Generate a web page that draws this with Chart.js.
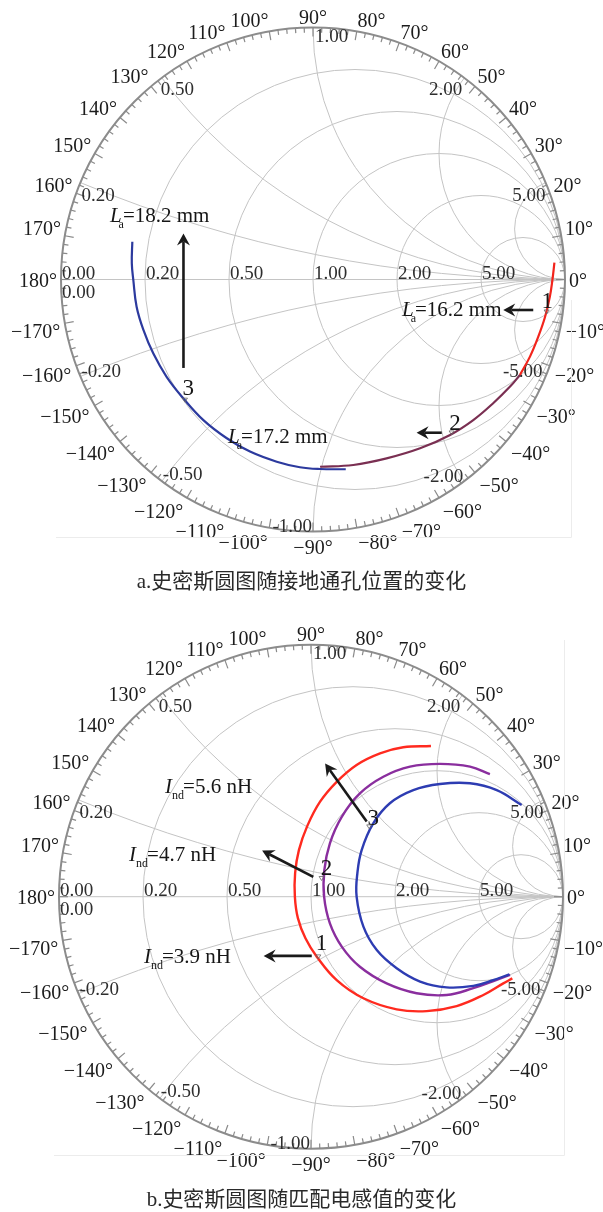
<!DOCTYPE html>
<html>
<head>
<meta charset="utf-8">
<title>史密斯圆图</title>
<script src="https://cdn.jsdelivr.net/npm/chart.js@4.4.1/dist/chart.umd.min.js"></script>
<style>
  html, body { margin: 0; padding: 0; background: #fff; }
  body { position: relative; width: 603px; height: 1212px; overflow: hidden; }
  .panel { position: absolute; left: 0; }
  .caption { position: absolute; left: 0; width: 603px; text-align: center;
    font-family: "Liberation Serif", "Noto Sans CJK SC", serif; font-size: 21px;
    color: #2a2a2a; line-height: 24px; }
</style>
</head>
<body>
<div class="panel" style="top:0"><canvas id="chartA" width="603" height="600"></canvas></div>
<div class="panel" style="top:600px"><canvas id="chartB" width="603" height="612"></canvas></div>
<div class="caption" style="top:569px">a.史密斯圆图随接地通孔位置的变化</div>
<div class="caption" style="top:1187px">b.史密斯圆图随匹配电感值的变化</div>
<script>
// ---------- Smith chart grid values ----------
const resistanceValues = [0.2, 0.5, 1, 2, 5];
const reactanceValues = [0.2, 0.5, 1, 2, 5];
const resistanceTickLabels = ['0.00', '0.20', '0.50', '1.00', '2.00', '5.00'];
const reactanceTickLabels = ['0.20', '0.50', '1.00', '2.00', '5.00'];
const negReactanceTickLabels = ['-0.20', '-0.50', '-1.00', '-2.00', '-5.00'];
const angleTickLabels = [0, 10, 20, 30, 40, 50, 60, 70, 80, 90, 100, 110, 120, 130, 140, 150, 160, 170, 180,
  -10, -20, -30, -40, -50, -60, -70, -80, -90, -100, -110, -120, -130, -140, -150, -160, -170];

// ---------- (a) S11 traces vs. grounding-via position, [Re Γ, Im Γ] ----------
const traceLa162 = [[0.958, 0.067], [0.950, -0.002], [0.940, -0.068], [0.921, -0.148], [0.894, -0.227],
  [0.861, -0.306], [0.821, -0.379]];
const traceLa172 = [[0.821, -0.379], [0.782, -0.425], [0.715, -0.491], [0.636, -0.558], [0.544, -0.617],
  [0.425, -0.670], [0.292, -0.710], [0.160, -0.736], [0.028, -0.743]];
const traceLa182 = [[0.130, -0.753], [0.028, -0.752], [-0.052, -0.745], [-0.144, -0.723], [-0.250, -0.683],
  [-0.342, -0.630], [-0.435, -0.558], [-0.515, -0.471], [-0.581, -0.386], [-0.634, -0.293],
  [-0.673, -0.200], [-0.700, -0.108], [-0.713, -0.002], [-0.719, 0.064], [-0.717, 0.150]];

// ---------- (b) S11 traces vs. matching inductance, [Re Γ, Im Γ] ----------
const traceInd39 = [[0.476, 0.598], [0.366, 0.593], [0.274, 0.569], [0.181, 0.523], [0.102, 0.456],
  [0.036, 0.377], [-0.015, 0.280], [-0.048, 0.185], [-0.063, 0.094], [-0.064, 0.000], [-0.052, -0.085],
  [-0.022, -0.165], [0.023, -0.238], [0.102, -0.331], [0.208, -0.403], [0.340, -0.447], [0.459, -0.454],
  [0.578, -0.434], [0.684, -0.390], [0.763, -0.344], [0.799, -0.324]];
const traceInd47 = [[0.710, 0.486], [0.631, 0.516], [0.512, 0.527], [0.393, 0.516], [0.287, 0.476],
  [0.194, 0.410], [0.122, 0.317], [0.075, 0.212], [0.053, 0.106], [0.052, 0.000], [0.075, -0.106],
  [0.122, -0.198], [0.194, -0.278], [0.300, -0.344], [0.419, -0.383], [0.538, -0.390], [0.644, -0.363],
  [0.737, -0.330], [0.790, -0.310]];
const traceInd56 = [[0.836, 0.364], [0.737, 0.423], [0.631, 0.450], [0.512, 0.447], [0.406, 0.423],
  [0.313, 0.371], [0.247, 0.291], [0.201, 0.185], [0.184, 0.093], [0.181, 0.000], [0.208, -0.119],
  [0.261, -0.212], [0.340, -0.284], [0.433, -0.337], [0.538, -0.360], [0.644, -0.354], [0.723, -0.331],
  [0.787, -0.308]];

// ---------- annotations (positions in Γ-plane units) ----------
const notesA = {
  labels: [
    { sym: 'L', sub: 'a', text: '=18.2 mm', at: [-0.806, 0.228] },
    { sym: 'L', sub: 'a', text: '=17.2 mm', at: [-0.337, -0.649] },
    { sym: 'L', sub: 'a', text: '=16.2 mm', at: [0.353, -0.145] }
  ],
  markers: [
    { text: '1', at: [0.930, -0.081], tri: [0.927, -0.128] },
    { text: '2', at: [0.563, -0.564], tri: [0.550, -0.608] },
    { text: '3', at: [-0.495, -0.425], tri: [-0.508, -0.478] }
  ],
  arrows: [
    { from: [-0.514, -0.351], to: [-0.514, 0.183] },
    { from: [0.874, -0.121], to: [0.755, -0.121] },
    { from: [0.511, -0.608], to: [0.411, -0.608] }
  ],
  frame: { left: 56, right: 571, top: 300, bottom: 537 }
};
const notesB = {
  labels: [
    { sym: 'I', sub: 'nd', text: '=5.6 nH', at: [-0.579, 0.412] },
    { sym: 'I', sub: 'nd', text: '=4.7 nH', at: [-0.722, 0.142] },
    { sym: 'I', sub: 'nd', text: '=3.9 nH', at: [-0.663, -0.263] }
  ],
  markers: [
    { text: '1', at: [0.042, -0.179], tri: [0.029, -0.238] },
    { text: '2', at: [0.062, 0.119], tri: [0.042, 0.073] },
    { text: '3', at: [0.247, 0.317], tri: [0.231, 0.278] }
  ],
  arrows: [
    { from: [0.221, 0.298], to: [0.056, 0.529] },
    { from: [0.009, 0.079], to: [-0.194, 0.183] },
    { from: [0.003, -0.235], to: [-0.188, -0.235] }
  ],
  frame: { left: 54, right: 564, top: 40, bottom: 555 }
};

const SERIF = '"Liberation Serif", "Times New Roman", serif';

function pix(chart) {
  const xs = chart.scales.x, ys = chart.scales.y;
  const X = v => xs.getPixelForValue(v), Y = v => ys.getPixelForValue(v);
  return { X, Y, cx: X(0), cy: Y(0), R: X(1) - X(0) };
}

// Smith chart background: resistance circles, reactance arcs, rim scale and labels
const smithGrid = {
  id: 'smithGrid',
  beforeDatasetsDraw(chart) {
    const { ctx } = chart;
    const { X, Y, cx, cy, R } = pix(chart);
    ctx.save();

    // grid clipped to the unit disc
    ctx.save();
    ctx.beginPath(); ctx.arc(cx, cy, R, 0, Math.PI * 2); ctx.clip();
    ctx.strokeStyle = '#c4c4c4'; ctx.lineWidth = 1;
    ctx.beginPath(); ctx.moveTo(cx - R, cy); ctx.lineTo(cx + R, cy); ctx.stroke();
    resistanceValues.forEach(r => {
      ctx.beginPath(); ctx.arc(X(r / (1 + r)), cy, R / (1 + r), 0, Math.PI * 2); ctx.stroke();
    });
    reactanceValues.forEach(x => {
      [x, -x].forEach(v => {
        ctx.beginPath(); ctx.arc(X(1), Y(1 / v), R / Math.abs(v), 0, Math.PI * 2); ctx.stroke();
      });
    });
    ctx.restore();

    // rim with degree ticks
    ctx.strokeStyle = '#8c8c8c'; ctx.lineWidth = 2;
    ctx.beginPath(); ctx.arc(cx, cy, R, 0, Math.PI * 2); ctx.stroke();
    ctx.lineWidth = 1.2; ctx.strokeStyle = '#8a8a8a';
    for (let d = -178; d <= 180; d += 2) {
      const a = d * Math.PI / 180, c = Math.cos(a), s = Math.sin(a);
      const len = d % 10 === 0 ? 9 : 5;
      ctx.beginPath();
      ctx.moveTo(cx + R * c, cy - R * s);
      ctx.lineTo(cx + (R - len) * c, cy - (R - len) * s);
      ctx.stroke();
    }

    // degree labels: the corner facing the centre sits on the radial line
    ctx.font = '20px ' + SERIF; ctx.fillStyle = '#1c1c1c';
    ctx.textAlign = 'center'; ctx.textBaseline = 'alphabetic';
    const side = t => Math.max(-1, Math.min(1, t / 0.17));
    angleTickLabels.forEach(d => {
      const t = (d < 0 ? '\u2212' + (-d) : String(d)) + '\u00b0';
      const a = d * Math.PI / 180, ux = Math.cos(a), uy = -Math.sin(a);
      const w = ctx.measureText(t).width, h = 14;
      const g = 4 + 4 * Math.max(0, uy);
      const px = cx + ux * (R + g), py = cy + uy * (R + g);
      const tx = px + side(ux) * w / 2, ty = py + side(uy) * h / 2;
      ctx.fillText(t, tx, ty + h / 2);
    });

    // resistance labels along the real axis
    ctx.font = '19px ' + SERIF; ctx.fillStyle = '#2e2e2e'; ctx.textAlign = 'left';
    ctx.fillText(resistanceTickLabels[0], X(-1) + 1, cy - 0.5);
    ctx.fillText(resistanceTickLabels[0], X(-1) + 1, cy + 18.5);
    resistanceValues.forEach((r, i) => {
      ctx.fillText(resistanceTickLabels[i + 1], X((r - 1) / (r + 1)) + 1, cy - 0.5);
    });

    // reactance labels just inside the rim
    const upper = [['left', 1, 5], ['left', -1, 4], ['left', 2, 1], ['right', -2, 4], ['right', 0, 5]];
    const lower = [['left', 1, 1], ['left', 1, -1], ['right', -1, 0], ['right', -1, 1], ['right', -3, 1]];
    reactanceValues.forEach((x, i) => {
      const re = (x * x - 1) / (x * x + 1), im = 2 * x / (x * x + 1);
      const [al, dx, dy] = upper[i];
      ctx.textAlign = al;
      ctx.fillText(reactanceTickLabels[i], X(re) + dx, Y(im) + dy + 13);
      const [al2, dx2, dy2] = lower[i];
      ctx.textAlign = al2;
      ctx.fillText(negReactanceTickLabels[i], X(re) + dx2, Y(-im) + dy2);
    });
    ctx.restore();
  }
};

function drawArrow(ctx, x1, y1, x2, y2) {
  const ang = Math.atan2(y2 - y1, x2 - x1);
  const L = 12, Wd = 6.5, notch = 4;
  const bx = x2 - Math.cos(ang) * (L - notch), by = y2 - Math.sin(ang) * (L - notch);
  ctx.beginPath(); ctx.moveTo(x1, y1); ctx.lineTo(bx, by); ctx.stroke();
  const px = -Math.sin(ang), py = Math.cos(ang);
  const hx = x2 - Math.cos(ang) * L, hy = y2 - Math.sin(ang) * L;
  ctx.beginPath();
  ctx.moveTo(x2, y2);
  ctx.lineTo(hx + px * Wd, hy + py * Wd);
  ctx.lineTo(bx, by);
  ctx.lineTo(hx - px * Wd, hy - py * Wd);
  ctx.closePath(); ctx.fill();
}

// text, arrows and point markers drawn over the traces
function notesPlugin(notes) {
  return {
    id: 'smithNotes',
    afterDatasetsDraw(chart) {
      const { ctx } = chart;
      const { X, Y } = pix(chart);
      ctx.save();
      // faint edge of the figure
      const f = notes.frame;
      ctx.strokeStyle = '#ececec'; ctx.lineWidth = 1;
      ctx.beginPath();
      ctx.moveTo(f.left, f.bottom + 0.5); ctx.lineTo(f.right + 0.5, f.bottom + 0.5);
      ctx.lineTo(f.right + 0.5, f.top);
      ctx.stroke();

      ctx.fillStyle = '#161616'; ctx.textBaseline = 'alphabetic'; ctx.textAlign = 'left';
      notes.labels.forEach(l => {
        const x = X(l.at[0]), y = Y(l.at[1]);
        ctx.font = 'italic 21px ' + SERIF;
        ctx.fillText(l.sym, x, y);
        const ws = ctx.measureText(l.sym).width;
        const subX = x + ws - (l.sym === 'L' ? 3 : 0);
        ctx.font = '12px ' + SERIF;
        ctx.fillText(l.sub, subX, y + 6);
        const subEnd = subX + ctx.measureText(l.sub).width;
        ctx.font = '21px ' + SERIF;
        ctx.fillText(l.text, Math.max(x + ws, subEnd) - 1, y);
      });

      ctx.textAlign = 'center';
      notes.markers.forEach(m => {
        ctx.font = '23px ' + SERIF; ctx.fillStyle = '#161616';
        ctx.fillText(m.text, X(m.at[0]), Y(m.at[1]) + 8);
        const tx = X(m.tri[0]), ty = Y(m.tri[1]);
        ctx.strokeStyle = '#666'; ctx.lineWidth = 0.8;
        ctx.beginPath();
        ctx.moveTo(tx - 2.5, ty - 1.8); ctx.lineTo(tx + 2.5, ty - 1.8); ctx.lineTo(tx, ty + 2.2);
        ctx.closePath(); ctx.stroke();
      });

      ctx.strokeStyle = '#1a1a1a'; ctx.fillStyle = '#1a1a1a'; ctx.lineWidth = 2.6;
      notes.arrows.forEach(a => drawArrow(ctx, X(a.from[0]), Y(a.from[1]), X(a.to[0]), Y(a.to[1])));
      ctx.restore();
    }
  };
}

const toXY = arr => arr.map(([re, im]) => ({ x: re, y: im }));
const line = (data, color, width) => ({
  data: toXY(data), showLine: true, borderColor: color, backgroundColor: color,
  borderWidth: width, tension: 0.4, pointRadius: 0, fill: false, clip: false
});

function makeChart(id, geom, datasets, notes) {
  const { w, h, cx, cy, R } = geom;
  return new Chart(document.getElementById(id), {
    type: 'scatter',
    data: { datasets },
    options: {
      responsive: false, animation: false, devicePixelRatio: 1,
      layout: { padding: 0 },
      plugins: { legend: { display: false }, tooltip: { enabled: false }, title: { display: false } },
      scales: {
        x: { type: 'linear', display: false, bounds: 'data', min: -cx / R, max: (w - cx) / R },
        y: { type: 'linear', display: false, bounds: 'data', min: -(h - cy) / R, max: cy / R }
      }
    },
    plugins: [smithGrid, notesPlugin(notes)]
  });
}

makeChart('chartA', { w: 603, h: 600, cx: 313, cy: 279.5, R: 252 }, [
  line(traceLa182, '#2c3a9e', 2.2),
  line(traceLa172, '#7a2f52', 2.2),
  line(traceLa162, '#f2241c', 2.2)
], notesA);

makeChart('chartB', { w: 603, h: 612, cx: 311, cy: 296.7, R: 252 }, [
  line(traceInd56, '#2d3cb2', 2.4),
  line(traceInd47, '#8a2e9e', 2.4),
  line(traceInd39, '#ff2a1f', 2.4)
], notesB);
</script>
</body>
</html>
